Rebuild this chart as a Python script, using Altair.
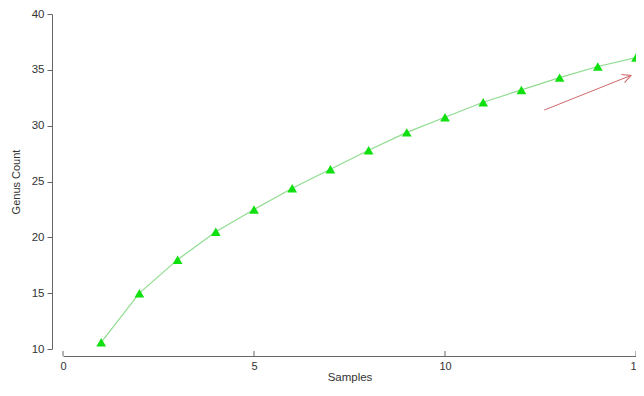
import altair as alt
import pandas as pd
import math

samples = list(range(1, 16))
genus_count = [10.6, 15.0, 18.0, 20.5, 22.5, 24.4, 26.1, 27.8, 29.4, 30.75, 32.1, 33.2, 34.3, 35.3, 36.1]

x_ticks = [0, 5, 10, 15]
y_ticks = [10, 15, 20, 25, 30, 35, 40]

arrow_x = [12.6, 14.87]
arrow_y = [31.4, 34.5]

W, H = 573, 335
XOFF = 7
x_dom = [0, 15]
y_dom = [10, 40]

df = pd.DataFrame({"Samples": samples, "Genus": genus_count})
arrow_df = pd.DataFrame({"x": [arrow_x[0]], "y": [arrow_y[0]], "x2": [arrow_x[1]], "y2": [arrow_y[1]]})

dx = (arrow_x[1] - arrow_x[0]) / (x_dom[1] - x_dom[0]) * W
dy = -(arrow_y[1] - arrow_y[0]) / (y_dom[1] - y_dom[0]) * H
ang = math.degrees(math.atan2(dy, dx)) % 360
head_df = pd.DataFrame({"x": [arrow_x[1]], "y": [arrow_y[1]]})
tick_df = pd.DataFrame({"t": x_ticks})

font = "Liberation Sans"
xs = alt.Scale(domain=x_dom, nice=False)
ys = alt.Scale(domain=y_dom, nice=False)

xaxis = alt.Axis(values=x_ticks, ticks=False, offset=XOFF, labelPadding=4, titlePadding=0,
                 labelFontSize=11, titleFontSize=11.5, labelFont=font, titleFont=font,
                 labelColor="#333", titleColor="#333", titleFontWeight="normal",
                 labelFlush=False, domainColor="#666", grid=False)
yaxis = alt.Axis(values=y_ticks, offset=11, tickSize=5, tickColor="#666", labelPadding=3,
                 titlePadding=10, labelFontSize=11.5, titleFontSize=11, labelFont=font,
                 titleFont=font, labelColor="#333", titleColor="#333", titleFontWeight="normal",
                 labelFlush=False, domainColor="#666", grid=False)

line = alt.Chart(df).mark_line(color="#8fdc8f", strokeWidth=1.2).encode(
    x=alt.X("Samples:Q", scale=xs, axis=xaxis, title="Samples"),
    y=alt.Y("Genus:Q", scale=ys, axis=yaxis, title="Genus Count"),
)
pts = alt.Chart(df).mark_point(shape="triangle-up", filled=True, opacity=1, size=95,
                               color="#10e010").encode(
    x=alt.X("Samples:Q", scale=xs),
    y=alt.Y("Genus:Q", scale=ys),
)
ticks = alt.Chart(tick_df).mark_rule(color="#666", strokeWidth=1).encode(
    x=alt.X("t:Q", scale=xs),
    y=alt.value(H + XOFF),
    y2=alt.value(H + XOFF - 5),
)
arrow = alt.Chart(arrow_df).mark_rule(color="#d06868", strokeWidth=1).encode(
    x=alt.X("x:Q", scale=xs), y=alt.Y("y:Q", scale=ys),
    x2="x2:Q", y2="y2:Q",
)
head = alt.Chart(head_df).mark_point(shape="M-1,-0.5L0,0L-1,0.5", filled=False, size=300,
                                     color="#d06868", strokeWidth=1, angle=ang, opacity=1).encode(
    x=alt.X("x:Q", scale=xs), y=alt.Y("y:Q", scale=ys),
)

chart = alt.layer(line, pts, ticks, arrow, head).properties(
    width=W, height=H,
    background="white",
    autosize=alt.AutoSizeParams(type="none"),
    padding={"left": 55, "top": 6, "right": 0, "bottom": 35},
).configure_view(strokeWidth=0, stroke="transparent")

chart.save("out.html", embed_options={"renderer": "svg", "actions": False})
